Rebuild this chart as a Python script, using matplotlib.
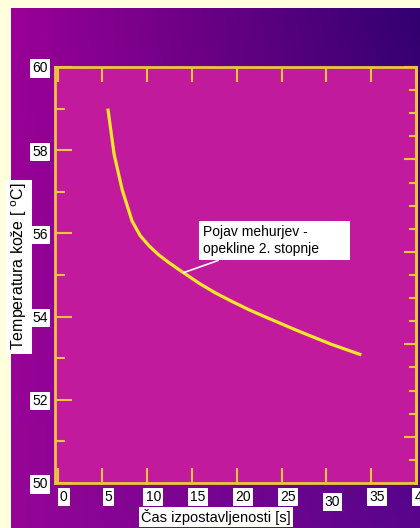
import matplotlib.pyplot as plt
import numpy as np
from matplotlib.transforms import ScaledTranslation

plt.rcParams['font.family'] = ['Liberation Sans', 'DejaVu Sans']

# curve
cas = [5.6, 6.3, 7.2, 8.3, 9.2, 10.2, 11.3, 12.4, 13.6, 14.7, 15.8, 17.6, 19.4, 21.3, 23.2, 26.9, 30.6, 33.9]
temp = [59.0, 57.9, 57.05, 56.3, 55.95, 55.7, 55.48, 55.3, 55.12, 54.96, 54.8, 54.57, 54.37, 54.17, 53.99, 53.65, 53.33, 53.08]

x_ticks = [0, 5, 10, 15, 20, 25, 30, 35, 40]
y_ticks = [50, 52, 54, 56, 58, 60]

note_text = 'Pojav mehurjev -          \nopekline 2. stopnje      '
note_point = (14.1, 55.06)
note_box = (16.2, 55.45)

fig = plt.figure(figsize=(4.2, 5.28), dpi=100, facecolor='#FFFFDE')

# purple gradient panel behind the chart
bg = fig.add_axes([11/420, 0, 409/420, 520/528])
bg.set_axis_off()
tl = np.array([155, 0, 150]) / 255
tr = np.array([50, 0, 112]) / 255
bl = np.array([150, 5, 150]) / 255
br = np.array([88, 5, 140]) / 255
u = np.linspace(0, 1, 200)[None, :, None]
v = np.linspace(0, 1, 200)[:, None, None]
grad = (1 - v) * ((1 - u) * tl + u * tr) + v * ((1 - u) * bl + u * br)
bg.imshow(grad, aspect='auto', extent=[0, 1, 0, 1])

ax = fig.add_axes([55/420, 45/528, 361/420, 416/528])
ax.set_facecolor('#C21A9C')
ax.set_xlim(-0.3, 39.7)
ax.set_ylim(50, 60)

ax.plot(cas, temp, color='#F5E62A', linewidth=2.3, solid_capstyle='butt')

ax.annotate(note_text, xy=note_point, xytext=note_box, fontsize=10,
            ha='left', va='bottom', color='black', linespacing=1.3,
            bbox=dict(boxstyle='square,pad=0.3', fc='white', ec='none'),
            arrowprops=dict(arrowstyle='-', color='white', lw=1.2, shrinkA=0, shrinkB=0))

spine_col = '#F0C43C'
for s in ax.spines.values():
    s.set_color(spine_col)
    s.set_linewidth(2)

ax.set_xticks(x_ticks)
ax.set_yticks(y_ticks)
ax.set_yticks(np.arange(50, 61, 1), minor=True)
ax.tick_params(axis='x', direction='in', length=11, width=1.5, color=spine_col,
               top=True, labelsize=10, pad=5)
ax.tick_params(axis='y', which='major', direction='in', length=12, width=1.5,
               color=spine_col, labelsize=10, pad=5)
ax.tick_params(axis='y', which='minor', direction='in', length=7, width=1.5,
               color=spine_col)

lbl_box = dict(boxstyle='square,pad=0.15', fc='white', ec='none')
for lbl in ax.get_xticklabels():
    dy = -5 if lbl.get_text() == '30' else 0
    off = ScaledTranslation(6/100, dy/100, fig.dpi_scale_trans)
    lbl.set_bbox(lbl_box)
    lbl.set_transform(lbl.get_transform() + off)
for lbl in ax.get_yticklabels():
    lbl.set_bbox(lbl_box)

# right side scale in Fahrenheit
sec = ax.secondary_yaxis('right', functions=(lambda c: c * 9 / 5 + 32,
                                             lambda f: (f - 32) * 5 / 9))
sec.spines['right'].set_color(spine_col)
sec.spines['right'].set_linewidth(2)
sec.set_yticks([124, 128, 132, 136, 140])
sec.set_yticks(np.arange(122, 141, 1), minor=True)
sec.tick_params(which='major', direction='in', length=9, width=1.5, color=spine_col,
                labelright=False)
sec.tick_params(which='minor', direction='in', length=5, width=1.5, color=spine_col)

ax.set_xlabel('Čas izpostavljenosti [s]', fontsize=10.5,
              bbox=dict(boxstyle='square,pad=0.15', fc='white', ec='none'))
ax.xaxis.set_label_coords(0.446, -0.062)
ax.set_ylabel('Temperatura kože [ $^\\mathrm{o}$C]', fontsize=11.5,
              bbox=dict(boxstyle='square,pad=0.2', fc='white', ec='none'))
ax.yaxis.set_label_coords(-0.072, 0.52)

fig.savefig('out.png', dpi=100, facecolor=fig.get_facecolor())
